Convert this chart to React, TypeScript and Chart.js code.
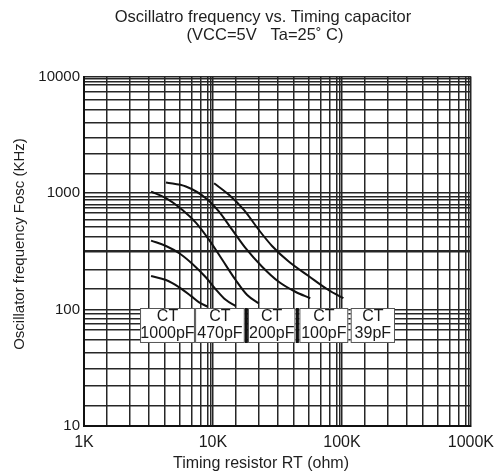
import React, { useEffect, useRef } from 'react';
import { Chart, registerables } from 'chart.js';

Chart.register(...registerables);

// ---- data ----
const capacitors = ['1000pF', '470pF', '200pF', '100pF', '39pF'];

const rt1000 = [3311, 4323, 5476, 6742, 7811, 9054];
const f1000 = [194, 179, 155, 131, 115, 106];

const rt470 = [3311, 4323, 5476, 6935, 8800, 10510, 12552, 14995];
const f470 = [390, 351, 304, 246, 189, 149, 121, 107];

const rt200 = [3311, 4323, 5806, 7367, 9331, 11815, 14995, 18427, 22683];
const f200 = [1029, 903, 716, 557, 396, 267, 179, 133, 113];

const rt100 = [4323, 6168, 8800, 11144, 14117, 17912, 24055, 32359, 43551, 56833];
const f100 = [1229, 1136, 903, 693, 482, 336, 233, 173, 142, 125];

const rt39 = [10198, 13312, 17378, 22683, 28722, 38661, 55142, 78668, 102705];
const f39 = [1214, 964, 716, 482, 351, 258, 194, 147, 125];

// grid line values as drawn on the reference sheet
const xDecades = [1000, 10000, 100000];
const xGridSteps = [1, 1.5, 2.25, 3.2, 4.25, 5.5, 6.8, 8.1, 9.1, 9.65];
const xTickLabels: Record<number, string> = { 1000: '1K', 10000: '10K', 100000: '100K', 1000000: '1000K' };

const yGridValues = [
  10, 14.8, 22, 31.3, 42.6, 54.8, 66.7, 76.2, 84.1, 91.7,
  100, 150, 219, 315, 423, 515, 588, 671, 741, 791, 873, 932,
  1000, 1452, 2156, 2958, 3979, 5176, 6307, 7434, 8486, 9060, 9550, 10000,
];
const yTickLabels: Record<number, string> = { 10: '10', 100: '100', 1000: '1000', 10000: '10000' };

// capacitor label boxes (data units: ohm / KHz)
const ctBoxFrom = [2720, 7270, 18700, 46800, 117000];
const ctBoxTo = [7250, 17650, 43600, 112000, 258000];
const ctBoxTop = 103;
const ctBoxBottom = 51.6;
const ctSeparatorAfter = [false, true, true, false];

const titleLine1 = 'Oscillatro frequency vs. Timing capacitor';
const titleLine2 = '(VCC=5V   Ta=25\u02DA C)';
const xTitle = 'Timing resistor RT (ohm)';
const yTitle = 'Oscillator frequency Fosc (KHz)';

const FONT = '"Liberation Sans", Arial, Helvetica, sans-serif';

const xGridValues: number[] = [];
xDecades.forEach((d) => xGridSteps.forEach((m) => xGridValues.push(d * m)));
xGridValues.push(1000000);

const zip = (xs: number[], ys: number[]) => xs.map((x, i) => ({ x, y: ys[i] }));

const seriesX = [rt1000, rt470, rt200, rt100, rt39];
const seriesY = [f1000, f470, f200, f100, f39];

const overlayPlugin = {
  id: 'overlay',
  afterDatasetsDraw(chart: any) {
    const { ctx, scales } = chart;
    const xs = scales.x;
    const ys = scales.y;
    const y1 = ys.getPixelForValue(ctBoxTop);
    const y2 = ys.getPixelForValue(ctBoxBottom);
    const h = y2 - y1;
    ctx.save();
    for (let i = 0; i < capacitors.length; i++) {
      const x1 = xs.getPixelForValue(ctBoxFrom[i]);
      const x2 = xs.getPixelForValue(ctBoxTo[i]);
      ctx.fillStyle = '#ffffff';
      ctx.fillRect(x1, y1, x2 - x1, h);
      ctx.strokeStyle = '#555';
      ctx.lineWidth = 1;
      ctx.strokeRect(x1 + 0.5, y1 + 0.5, x2 - x1 - 1, h - 1);
      ctx.fillStyle = '#1a1a1a';
      ctx.font = `16px ${FONT}`;
      ctx.textAlign = 'center';
      ctx.textBaseline = 'middle';
      const cx = (x1 + x2) / 2;
      ctx.fillText('CT', cx, y1 + h * 0.24);
      ctx.fillText(capacitors[i], cx, y1 + h * 0.72);
      if (i < capacitors.length - 1 && ctSeparatorAfter[i]) {
        const nx = xs.getPixelForValue(ctBoxFrom[i + 1]);
        const sx = (x2 + nx) / 2;
        ctx.strokeStyle = '#111';
        ctx.lineWidth = 3;
        ctx.beginPath();
        ctx.moveTo(sx, y1);
        ctx.lineTo(sx, y2);
        ctx.stroke();
      }
    }
    ctx.restore();
  },
  afterDraw(chart: any) {
    const { ctx } = chart;
    ctx.save();
    ctx.fillStyle = '#1f1f1f';
    ctx.textAlign = 'center';
    ctx.textBaseline = 'middle';
    ctx.font = `16.5px ${FONT}`;
    ctx.fillText(titleLine1, 263, 17);
    ctx.fillText(titleLine2, 265, 35);
    ctx.font = `16px ${FONT}`;
    ctx.fillText(xTitle, 261, 464);
    ctx.translate(20, 244);
    ctx.rotate(-Math.PI / 2);
    ctx.font = `15px ${FONT}`;
    ctx.fillText(yTitle, 0, 0);
    ctx.restore();
  },
};

export default function App() {
  const canvasRef = useRef<HTMLCanvasElement | null>(null);

  useEffect(() => {
    if (!canvasRef.current) return;
    const datasets = seriesX.map((xs, i) => ({
      label: capacitors[i],
      data: zip(xs, seriesY[i]),
      borderColor: '#111',
      borderWidth: 2,
      pointRadius: 0,
      fill: false,
      cubicInterpolationMode: 'monotone' as const,
    }));
    const chart = new Chart(canvasRef.current, {
      type: 'line',
      data: { datasets },
      plugins: [overlayPlugin],
      options: {
        responsive: false,
        animation: false,
        layout: { padding: { top: 76.5, right: 28.5, left: 0, bottom: 0 } },
        plugins: {
          legend: { display: false },
          tooltip: { enabled: false },
          title: { display: false },
        },
        scales: {
          x: {
            type: 'logarithmic',
            min: 1000,
            max: 1000000,
            afterBuildTicks: (s: any) => {
              s.ticks = xGridValues.map((v) => ({ value: v }));
            },
            afterFit: (s: any) => {
              s.height = 50;
            },
            grid: {
              color: '#262626',
              lineWidth: 1.5,
              drawTicks: false,
            },
            border: { color: '#111', width: 2 },
            ticks: {
              autoSkip: false,
              maxRotation: 0,
              minRotation: 0,
              padding: 7,
              color: '#1a1a1a',
              font: { family: FONT, size: 16 },
              callback: (v: any) => xTickLabels[Math.round(Number(v))] ?? '',
            },
          },
          y: {
            type: 'logarithmic',
            min: 10,
            max: 10000,
            afterBuildTicks: (s: any) => {
              s.ticks = yGridValues.map((v) => ({ value: v }));
            },
            afterFit: (s: any) => {
              s.width = 84;
            },
            grid: {
              color: '#262626',
              lineWidth: (c: any) => (c.tick && c.tick.value === 315 ? 2.6 : 1.5),
              drawTicks: false,
            },
            border: { color: '#111', width: 2 },
            ticks: {
              autoSkip: false,
              padding: 4,
              color: '#1a1a1a',
              font: { family: FONT, size: 15 },
              callback: (v: any) => yTickLabels[Math.round(Number(v))] ?? '',
            },
          },
        },
      },
    } as any);
    return () => chart.destroy();
  }, []);

  return (
    <div style={{ position: 'absolute', left: 0, top: 0, width: 501, height: 476, background: '#fff' }}>
      <canvas ref={canvasRef} width={501} height={476} style={{ display: 'block', width: 501, height: 476 }} />
    </div>
  );
}
